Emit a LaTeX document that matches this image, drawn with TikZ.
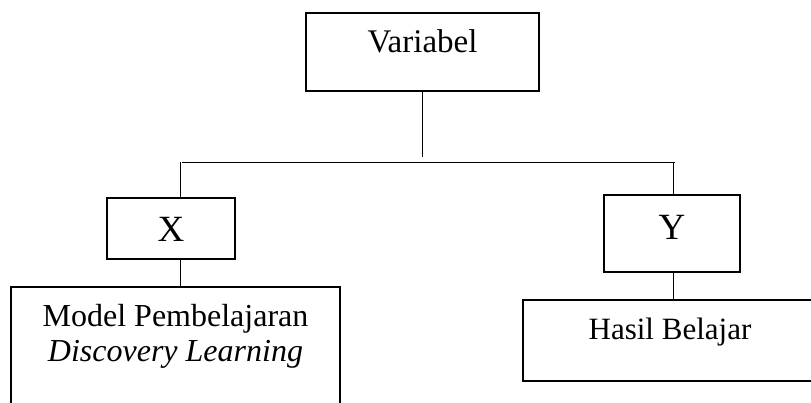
\documentclass[tikz,border=0pt]{standalone}
\usepackage{fontspec}
\setmainfont{Liberation Serif}
\usetikzlibrary{positioning, calc}

\begin{document}
\begin{tikzpicture}
   [
      x=1pt, y=-1pt,
      % Style for every box: plain rectangle, thin black border, text near the top
      box/.style={rectangle, draw, line width=1.6pt, inner sep=0pt, align=center,
                  font=\fontsize{31}{35}\selectfont},
      % Style for the two letter boxes
      letter box/.style={box, font=\fontsize{37}{40}\selectfont},
      % Style for the tree lines
      tree line/.style={line width=1.6pt}
   ]

    % fix the size of the page
    \clip (0,0) rectangle (811,402);

    % =======================================================
    % Top: the main box
    % =======================================================

    \node[box, font=\fontsize{33}{36}\selectfont, anchor=north, minimum width=233pt,
          text height=40pt, text depth=38pt]
        (variabel) at (422.5,12) {Variabel};

    % stem and bar
    \coordinate (stem) at (422.5,157);
    \coordinate (barL) at (182,162.5);
    \coordinate (barR) at (675,162.5);
    \draw[tree line] (variabel.south) -- (stem);
    \draw[tree line] (barL) -- (barR);

    % =======================================================
    % Left branch: X
    % =======================================================

    \node[letter box, anchor=north, minimum width=128pt, text height=44pt, text depth=17pt]
        (x) at (171,197) {X};
    \node[box, font=\fontsize{32}{35}\selectfont, anchor=north, minimum width=329pt,
          text height=75pt, text depth=56pt]
        (model) at (175.5,286) {Model Pembelajaran\\ \textit{Discovery Learning}};

    \coordinate (dropL) at (180.5,162);
    \draw[tree line] (dropL) -- (dropL |- x.north);
    \draw[tree line] (x.south -| dropL) -- (model.north -| dropL);

    % =======================================================
    % Right branch: Y
    % =======================================================

    \node[letter box, anchor=north, minimum width=136pt, text height=45pt, text depth=32pt]
        (y) at (672,194) {Y};
    \node[box, anchor=north, minimum width=294pt, text height=40pt, text depth=41pt]
        (hasil) at (670,299) {Hasil Belajar};

    \coordinate (dropR) at (673.5,162);
    \draw[tree line] (dropR) -- ($(dropR |- y.north)+(0,2)$);
    \draw[tree line] (y.south -| dropR) -- (hasil.north -| dropR);

\end{tikzpicture}
\end{document}
